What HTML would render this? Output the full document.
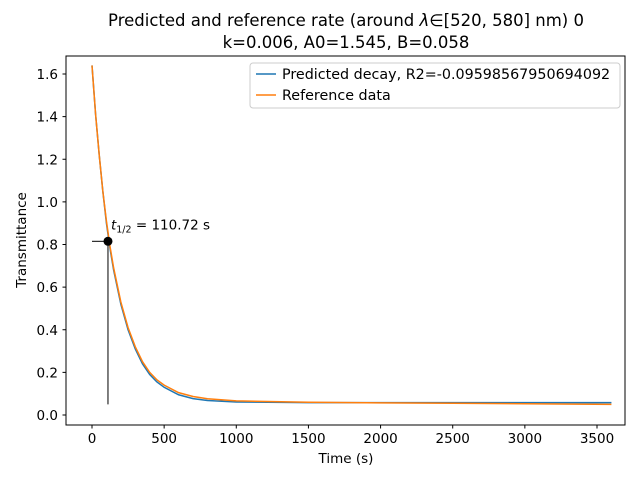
<!DOCTYPE html>
<html><head><meta charset="utf-8"><style>
body{margin:0;background:#fff}
svg text{font-family:"DejaVu Sans","Liberation Sans",sans-serif;fill:#000}
</style></head><body>
<svg id="chart" width="640" height="480" xmlns="http://www.w3.org/2000/svg">
<text x="346" y="26" font-size="16.5" text-anchor="middle">Predicted and reference rate (around <tspan font-style="italic">λ</tspan>∈[520, 580] nm) 0</text>
<text x="346" y="48" font-size="16.5" text-anchor="middle">k=0.006, A0=1.545, B=0.058</text>
<g id="plot"></g>
<rect x="66" y="56" width="559" height="369" fill="none" stroke="#000" stroke-width="1"/>
<text x="346" y="463" font-size="13.5" text-anchor="middle">Time (s)</text>
<text transform="translate(26,240) rotate(-90)" font-size="13.5" text-anchor="middle">Transmittance</text>
<g>
<rect x="250" y="63" width="370" height="45" fill="#fff" fill-opacity="0.8" stroke="#ccc" rx="3"/>
<line x1="256" y1="74" x2="276" y2="74" stroke="#1f77b4" stroke-width="1.5"/>
<text x="282" y="79" font-size="14.3">Predicted decay, R2=-0.09598567950694092</text>
<line x1="256" y1="95" x2="276" y2="95" stroke="#ff7f0e" stroke-width="1.5"/>
<text x="282" y="100" font-size="14.3">Reference data</text>
</g>
</svg>
<script>
const xTicks=[0,500,1000,1500,2000,2500,3000,3500];
const yTicks=[0.0,0.2,0.4,0.6,0.8,1.0,1.2,1.4,1.6];
const predT=[0,25,50,75,100,125,150,200,250,300,350,400,450,500,600,700,800,1000,1500,2000,2500,3000,3600];
const predY=[1.64,1.41,1.22,1.05,0.90,0.78,0.68,0.52,0.40,0.31,0.24,0.19,0.155,0.13,0.095,0.077,0.068,0.061,0.058,0.058,0.058,0.058,0.058];
const refT=[0,25,50,75,100,125,150,200,250,300,350,400,450,500,600,700,800,1000,1500,2000,2500,3000,3600];
const refY=[1.64,1.41,1.22,1.05,0.91,0.79,0.69,0.53,0.41,0.32,0.25,0.20,0.165,0.14,0.105,0.087,0.076,0.066,0.060,0.057,0.055,0.053,0.050];
const halfT=110.72, halfY=0.815, halfLabel="110.72";
const X=v=>92+v*(505/3500), Y=v=>415-v*(341/1.6);
const NS="http://www.w3.org/2000/svg", g=document.getElementById('plot');
function mk(t,a){const e=document.createElementNS(NS,t);for(const k in a)e.setAttribute(k,a[k]);g.appendChild(e);return e;}
xTicks.forEach(v=>{const l=mk('line',{x1:X(v),x2:X(v),y1:425,y2:428.5,stroke:'#000'});


const t=mk('text',{x:X(v),y:443,'font-size':13.5,'text-anchor':'middle'});t.textContent=v;

});
yTicks.forEach(v=>{const l=mk('line',{x1:62.5,x2:66,y1:Y(v),y2:Y(v),stroke:'#000'});


const t=mk('text',{x:58,y:Y(v)+5,'font-size':13.5,'text-anchor':'end'});t.textContent=v.toFixed(1);

});
const p1=mk('polyline',{points:predT.map((t,i)=>X(t)+','+Y(predY[i])).join(' '),fill:'none',stroke:'#1f77b4','stroke-width':1.5});


const p2=mk('polyline',{points:refT.map((t,i)=>X(t)+','+Y(refY[i])).join(' '),fill:'none',stroke:'#ff7f0e','stroke-width':1.5});


const vl=mk('line',{x1:X(halfT),x2:X(halfT),y1:Y(halfY),y2:Y(0.05),stroke:'#000','stroke-width':1});


const hl=mk('line',{x1:X(0),x2:X(halfT),y1:Y(halfY),y2:Y(halfY),stroke:'#000','stroke-width':1});


const c=mk('circle',{cx:X(halfT),cy:Y(halfY),r:4.5,fill:'#000'});


const at=mk('text',{x:X(halfT)+3,y:Y(halfY)-12,'font-size':13.5});
at.innerHTML='<tspan font-style="italic">t</tspan><tspan font-size="9.5" dy="3">1/2</tspan><tspan dy="-3"> = '+halfLabel+' s</tspan>';


</script>
</body></html>
